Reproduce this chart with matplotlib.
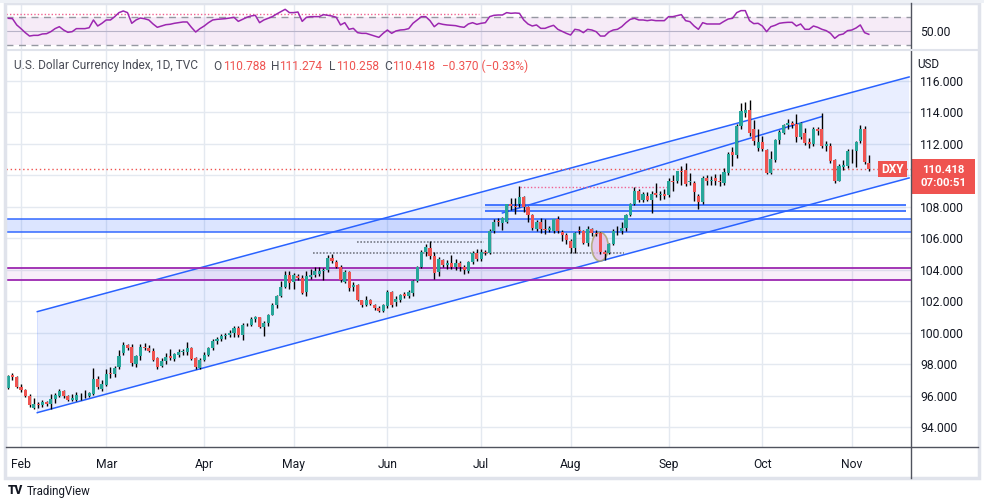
import numpy as np
import pandas as pd
import matplotlib.pyplot as plt
from matplotlib.patches import Rectangle, Ellipse

plt.rcParams['font.family'] = ['Roboto', 'DejaVu Sans']

# daily bars, 27 Jan 2022 .. 7 Nov 2022 (weekdays)
dates = pd.bdate_range("2022-01-27", "2022-11-07")

opens = [
    96.51, 97.30, 97.22,
    96.54, 96.34, 96.01, 95.25, 95.48, 95.40, 95.60, 95.50, 95.80, 96.00, 96.30, 96.00, 95.73, 95.76, 96.06, 96.02, 95.98, 96.10, 97.04, 96.45,
    96.70, 97.45, 97.38, 97.80, 98.70, 99.20, 99.08, 98.00, 98.50, 99.12, 99.05, 98.85, 98.38, 97.88, 98.20, 98.50, 98.35, 98.60, 98.76, 98.80, 99.05, 98.40, 97.78,
    98.30, 98.60, 99.00, 99.48, 99.62, 99.80, 99.84, 99.96, 100.30, 99.84, 100.50, 100.50, 100.90, 101.00, 100.38, 100.62, 101.15, 101.73, 102.33, 102.90, 103.65,
    103.20, 103.62, 103.48, 102.60, 103.55, 103.66, 103.70, 103.92, 103.95, 104.75, 104.50, 104.20, 103.25, 103.85, 102.90, 103.03, 102.05, 101.75, 102.05, 101.78, 101.58, 101.40,
    101.72, 102.57, 101.95, 102.10, 102.45, 102.35, 102.55, 103.30, 104.15, 105.15, 105.35, 104.90, 103.85, 104.62, 104.30, 104.45, 104.15, 104.40, 104.20, 103.90, 104.50, 105.08,
    104.70, 105.12, 105.05, 106.45, 107.08, 106.95, 107.00, 108.15, 108.05, 108.15, 108.60, 108.00, 107.45, 106.60, 107.05, 106.60, 106.55, 106.45, 107.20, 106.40, 106.20,
    105.85, 105.35, 106.48, 106.45, 105.70, 106.58, 106.35, 106.35, 105.15, 105.05, 105.65, 106.55, 106.45, 106.63, 107.50, 108.15, 109.00, 108.42, 108.70, 108.42, 108.85, 108.75, 108.80,
    108.75, 109.65, 109.60, 110.25, 110.30, 109.55, 109.50, 108.65, 108.30, 109.85, 109.60, 109.80, 109.65, 109.50, 110.15, 111.45, 111.25, 113.10, 113.95, 114.15, 112.95, 111.70,
    112.10, 111.60, 110.15, 110.95, 112.25, 112.70, 113.15, 113.30, 113.25, 112.40, 112.65, 112.10, 111.95, 112.95, 112.90, 111.85, 111.85, 110.95, 109.65, 110.50, 110.60,
    111.50, 111.50, 112.15, 112.95, 110.788,
]
highs = [
    97.34, 97.44, 97.26,
    96.72, 96.40, 96.12, 95.85, 95.62, 95.71, 95.66, 96.10, 96.18, 96.45, 96.34, 96.05, 96.10, 96.22, 96.15, 96.35, 96.24, 97.74, 97.28, 97.00,
    97.72, 97.80, 97.92, 98.93, 99.42, 99.30, 99.30, 98.60, 99.30, 99.32, 99.25, 99.00, 98.45, 98.40, 98.70, 98.97, 98.70, 98.95, 98.95, 99.40, 99.10, 98.45, 98.38,
    98.80, 99.10, 99.60, 99.76, 99.90, 100.00, 100.20, 100.40, 100.45, 100.60, 100.60, 101.00, 101.04, 101.03, 100.75, 101.20, 101.86, 102.40, 103.30, 103.93, 103.90,
    103.79, 103.70, 103.68, 103.94, 104.07, 104.20, 104.19, 104.10, 104.92, 105.01, 104.64, 104.27, 103.95, 103.90, 103.25, 103.08, 102.10, 102.35, 102.13, 101.85, 101.70, 101.85,
    102.70, 102.62, 102.30, 102.48, 102.58, 102.70, 103.35, 104.25, 105.25, 105.65, 105.79, 105.10, 104.80, 104.70, 104.60, 104.95, 104.70, 104.55, 104.30, 104.55, 105.20, 105.30,
    105.30, 105.25, 106.60, 107.20, 107.30, 107.35, 108.20, 108.55, 108.57, 109.29, 108.65, 108.05, 107.55, 107.15, 107.30, 107.20, 106.75, 107.20, 107.40, 106.55, 106.30,
    105.95, 106.40, 106.80, 106.55, 106.80, 106.65, 106.55, 106.40, 105.25, 105.72, 106.58, 106.75, 107.00, 107.55, 108.25, 109.27, 109.10, 108.95, 108.90, 108.98, 109.48, 109.00, 109.10,
    109.80, 110.00, 110.27, 110.60, 110.78, 110.15, 109.60, 108.80, 109.95, 110.00, 109.95, 110.05, 110.05, 110.45, 111.45, 111.80, 113.25, 114.58, 114.65, 114.78, 113.50, 112.90,
    112.50, 111.65, 111.50, 112.30, 112.85, 113.25, 113.55, 113.45, 113.88, 113.40, 113.00, 112.35, 113.05, 113.05, 113.92, 112.15, 112.05, 111.00, 110.70, 110.95, 111.65,
    111.65, 112.15, 113.15, 113.10, 111.274,
]
lows = [
    96.44, 96.97, 96.48,
    96.22, 95.93, 95.30, 95.14, 95.20, 95.30, 95.37, 95.14, 95.56, 95.90, 95.87, 95.70, 95.66, 95.70, 95.72, 95.88, 95.91, 96.08, 96.40, 96.30,
    96.60, 97.10, 97.20, 97.70, 98.60, 98.90, 97.88, 97.80, 98.30, 98.90, 98.75, 98.20, 97.72, 97.85, 98.00, 98.25, 98.20, 98.45, 98.60, 98.60, 98.25, 97.68, 97.70,
    98.20, 98.50, 98.90, 99.30, 99.50, 99.60, 99.70, 99.70, 99.75, 99.57, 100.40, 100.45, 100.70, 100.30, 99.82, 100.40, 101.10, 101.60, 102.25, 102.85, 102.75,
    102.80, 103.35, 102.45, 102.35, 103.40, 103.55, 103.62, 103.35, 103.85, 104.40, 104.10, 103.20, 103.13, 102.66, 102.65, 102.00, 101.64, 101.70, 101.75, 101.45, 101.30, 101.30,
    101.60, 101.65, 101.72, 101.95, 102.20, 102.20, 102.30, 103.20, 104.10, 104.90, 104.70, 103.40, 103.60, 104.20, 104.05, 104.05, 103.95, 103.90, 103.70, 103.80, 104.35, 104.55,
    104.55, 104.95, 104.98, 106.35, 106.75, 106.55, 106.95, 107.80, 107.55, 108.00, 107.65, 107.05, 106.55, 106.45, 106.30, 106.25, 106.40, 106.35, 106.30, 105.80, 105.65,
    105.05, 105.05, 106.25, 105.65, 105.50, 106.15, 106.15, 104.98, 104.64, 104.98, 105.55, 106.20, 106.25, 106.45, 107.40, 108.10, 108.28, 108.30, 108.35, 107.58, 108.60, 108.40, 108.50,
    108.60, 109.00, 109.50, 109.40, 109.30, 109.40, 108.35, 107.87, 108.20, 109.35, 109.40, 109.40, 109.30, 109.40, 110.00, 110.60, 111.10, 112.90, 113.70, 112.50, 111.90, 111.50,
    111.50, 110.05, 110.05, 110.85, 111.95, 112.60, 112.95, 113.00, 112.10, 112.30, 111.90, 111.75, 111.85, 112.55, 111.75, 111.55, 110.75, 109.53, 109.60, 110.35, 110.45,
    110.80, 110.50, 112.05, 110.70, 110.258,
]
closes = [
    97.25, 97.22, 96.54,
    96.34, 96.01, 95.39, 95.48, 95.43, 95.62, 95.51, 95.80, 96.07, 96.32, 95.99, 95.75, 95.85, 96.06, 96.03, 96.05, 96.18, 97.04, 96.55, 96.75,
    97.40, 97.38, 97.77, 98.50, 99.20, 99.05, 98.05, 98.50, 99.12, 99.02, 98.82, 98.30, 97.85, 98.23, 98.49, 98.38, 98.63, 98.80, 98.82, 99.05, 98.35, 97.80, 98.30,
    98.60, 99.00, 99.48, 99.62, 99.80, 99.84, 99.96, 100.30, 99.84, 100.52, 100.48, 100.90, 101.03, 100.38, 100.62, 101.11, 101.73, 102.33, 102.88, 103.65, 103.15,
    103.66, 103.45, 102.55, 103.62, 103.66, 103.89, 103.92, 103.95, 104.75, 104.56, 104.18, 103.33, 103.85, 102.84, 103.02, 102.09, 101.75, 102.10, 101.80, 101.55, 101.35, 101.75,
    102.57, 101.75, 102.16, 102.41, 102.32, 102.56, 103.28, 104.15, 105.10, 105.45, 104.85, 103.80, 104.65, 104.30, 104.45, 104.15, 104.40, 104.15, 103.95, 104.50, 105.08, 104.70,
    105.14, 105.08, 106.45, 107.05, 107.00, 107.25, 108.15, 108.05, 108.00, 108.60, 108.00, 107.50, 106.65, 107.05, 106.60, 106.55, 106.62, 107.20, 106.45, 106.20, 105.88,
    105.35, 106.30, 106.45, 105.70, 106.58, 106.35, 106.25, 105.15, 105.02, 105.65, 106.48, 106.50, 106.67, 107.50, 108.15, 109.00, 108.42, 108.78, 108.42, 108.80, 108.75, 108.80, 108.70,
    109.65, 109.55, 110.25, 110.20, 109.45, 109.65, 108.90, 108.30, 109.80, 109.60, 109.72, 109.65, 109.55, 110.20, 111.35, 111.30, 113.10, 114.10, 114.15, 112.65, 112.15, 112.10,
    111.65, 110.15, 111.05, 112.25, 112.75, 113.15, 113.30, 113.20, 112.40, 113.30, 112.05, 111.95, 112.95, 112.82, 111.85, 111.98, 110.90, 109.65, 110.55, 110.65, 111.55,
    111.56, 112.10, 112.95, 110.86, 110.418,
]
rsi = [
    68.6, 68.1, 59.0, 53.7, 47.9, 43.0, 44.0, 44.0, 46.0, 46.4,
    49.3, 53.7, 56.5, 51.7, 48.4, 49.3, 53.7, 53.7, 53.7, 55.0,
    66.2, 57.5, 61.4, 66.2, 66.2, 71.0, 76.8, 79.2, 76.8, 61.4,
    66.2, 69.0, 68.0, 66.2, 60.4, 55.6, 57.5, 59.4, 60.0, 61.4,
    62.3, 63.3, 63.3, 55.6, 48.8, 53.7, 57.5, 62.3, 66.2, 67.1,
    67.6, 68.1, 69.0, 70.0, 64.2, 67.1, 70.0, 72.0, 72.9, 62.3,
    66.2, 68.6, 71.0, 74.8, 78.2, 81.6, 76.8, 76.8, 77.7, 64.2,
    70.0, 71.0, 71.0, 71.0, 73.9, 72.9,
    71.9, 70.0, 59.0, 62.3, 52.7, 54.1, 47.9, 46.9, 46.9, 45.0,
    43.0, 41.1, 46.9, 51.7, 46.9, 50.3, 51.7, 52.2, 53.7, 61.4,
    66.2, 71.0, 71.0, 65.2, 56.5, 61.4, 59.9, 59.0, 58.5, 58.0,
    56.5, 55.6, 60.4, 62.3, 59.9, 61.4, 62.3, 71.0, 72.9, 73.4,
    73.4, 76.8, 75.8, 76.3, 75.8, 66.2, 60.4, 57.5, 59.0, 54.1,
    54.1, 56.5, 58.5, 52.7, 49.8, 46.9, 44.5, 52.7, 51.7, 47.9,
    52.7, 51.7, 49.3, 43.0, 43.0, 48.8, 51.7, 52.7, 56.5, 62.3,
    67.1, 68.6, 66.2, 66.2, 65.2,
    66.2, 65.2, 65.2, 65.2, 71.0, 71.0, 72.4, 73.9, 65.2, 63.8,
    57.5, 52.7, 62.3, 60.4, 60.4, 60.4, 60.4, 64.2, 67.6, 68.6,
    76.8, 79.7, 79.7, 65.2, 60.9, 61.4, 57.5, 49.3, 56.5, 58.5,
    61.4, 62.3, 62.8, 62.8, 57.5, 60.4, 52.7, 52.7, 57.5, 55.6,
    52.7, 50.8, 46.9, 39.7, 44.5, 46.0, 50.8, 51.7, 54.6, 59.0,
    47.9, 45.5,
]
price_ticks = [94, 96, 98, 100, 102, 104, 106, 108, 110, 112, 114, 116]
last_price = 110.418

# drawings on the chart (bar index, price)
channel_x = [6.83, 211.45]
channel_upper = [101.34, 116.23]
channel_lower = [94.93, 109.82]
inner_line_x = [116, 190.9]
inner_line_y = [107.6, 113.71]
blue_zone = [106.41, 107.22]
blue_lines = [107.75, 108.11]
purple_zone = [103.35, 104.13]

W, H = 984, 500
GREEN, RED = '#26a69a', '#ef5350'
BLUE, PURPLE = '#2962ff', '#9c27b0'
GRID = '#e4e9f0'
AXC = '#50535e'
TXT = '#131722'


def box(x0, y0, x1, y1):
    return [x0 / W, 1 - y1 / H, (x1 - x0) / W, (y1 - y0) / H]


def fx(x):
    return x / W


def fy(y):
    return 1 - y / H


fig = plt.figure(figsize=(W / 100, H / 100), dpi=100)
fig.patch.set_facecolor('white')
ax = fig.add_axes(box(6, 50, 911, 447))
rax = fig.add_axes(box(6, 3, 911, 50), sharex=ax)

idx = np.arange(len(dates))
o = np.array(opens)
h = np.array(highs)
l = np.array(lows)
c = np.array(closes)
up = c >= o
cols = np.where(up, GREEN, RED)

# zones and drawings
ax.fill([channel_x[0], channel_x[1], channel_x[1], channel_x[0]],
        [channel_lower[0], channel_lower[1], channel_upper[1], channel_upper[0]],
        color=BLUE, alpha=0.1, lw=0, zorder=1)
ax.plot(channel_x, channel_upper, color=BLUE, lw=1.1, zorder=2)
ax.plot(channel_x, channel_lower, color=BLUE, lw=1.1, zorder=2)
ax.plot([channel_x[0], channel_x[0]], [channel_lower[0], channel_upper[0]], color=BLUE, lw=0.5, alpha=0.2, zorder=2)
ax.plot(inner_line_x, inner_line_y, color=BLUE, lw=1.1, zorder=2)

ax.axhspan(blue_zone[0], blue_zone[1], color=BLUE, alpha=0.16, lw=0, zorder=1)
for yv in blue_zone:
    ax.axhline(yv, color=BLUE, lw=1.4, alpha=0.75, zorder=2)
ax.fill_between([111.9, 210.8], blue_lines[0], blue_lines[1], color=BLUE, alpha=0.07, lw=0, zorder=1)
ax.hlines(blue_lines, 111.9, 210.8, color=BLUE, lw=1.2, zorder=2)

ax.axhspan(purple_zone[0], purple_zone[1], color=PURPLE, alpha=0.07, lw=0, zorder=1)
for yv in purple_zone:
    ax.axhline(yv, color=PURPLE, lw=1.3, zorder=2)

ax.hlines(105.78, 81.9, 111.7, color='#787b86', lw=1.2, ls=(0, (1, 1)), zorder=2)
ax.hlines(105.04, 71.5, 144.5, color='#787b86', lw=1.2, ls=(0, (1, 1)), zorder=2)
ax.hlines(109.27, 120.1, 154.6, color='#f06292', lw=1.0, ls=(0, (1, 1.5)), zorder=2)
ax.axhline(last_price, color=RED, lw=1.0, ls=(0, (1, 2)), zorder=2)

ax.add_patch(Ellipse((138.9, 105.46), 3.9, 1.82, facecolor='#e1bee7', alpha=0.75,
                     edgecolor='#a79f5f', lw=1.2, zorder=2))

# candles
ax.vlines(idx, l, h, color='black', lw=1.0, zorder=3)
body = np.maximum(np.abs(c - o), 0.04)
ax.bar(idx, body, bottom=np.minimum(o, c), width=0.72, color=cols, lw=0, zorder=4)

# axes setup
month_idx = []
month_labels = []
for k, d in enumerate(dates):
    if k > 0 and d.month != dates[k - 1].month:
        month_idx.append(k)
        month_labels.append(d.strftime('%b'))

ax.set_xlim(-0.52, 211.9)
ax.set_ylim(92.75, 117.94)
ax.set_xticks(month_idx)
ax.set_xticklabels(month_labels)
ax.set_yticks(price_ticks)
# the 110 label sits under the last-price badge, as on the reference
ax.set_yticklabels(['' if p == 110 else f'{p:.3f}' for p in price_ticks])
ax.yaxis.tick_right()
ax.tick_params(axis='y', length=0, pad=6.5, labelsize=8.7, labelcolor=TXT)
ax.tick_params(axis='x', length=0, pad=8, labelsize=8.7, labelcolor=TXT)
ax.grid(True, color=GRID, lw=1.0, zorder=0)
ax.set_axisbelow(True)
for s in ax.spines.values():
    s.set_visible(False)

# RSI pane
rax.set_ylim(22.85, 90.7)
rax.axhspan(30, 70, color=PURPLE, alpha=0.09, lw=0, zorder=1)
rax.axhline(70, color='#9598a1', lw=1.0, ls=(0, (5, 4)), zorder=2)
rax.axhline(30, color='#9598a1', lw=1.0, ls=(0, (5, 4)), zorder=2)
rax.axhline(50, color='#b8b3c8', lw=0.8, zorder=2)
rax.hlines(74.4, -0.5, 110.4, color='#f06292', lw=1.0, ls=(0, (1, 1.5)), zorder=2)
rax.plot(idx, rsi, color=PURPLE, lw=1.1, zorder=3)
rax.set_yticks([50])
rax.set_yticklabels(['50.00'])
rax.yaxis.tick_right()
rax.tick_params(axis='y', length=0, pad=6.5, labelsize=8.7, labelcolor=TXT)
rax.tick_params(axis='x', length=0, labelbottom=False)
rax.grid(True, axis='x', color=GRID, lw=1.0, zorder=0)
rax.set_axisbelow(True)
for s in rax.spines.values():
    s.set_visible(False)

# frame lines
fig.add_artist(plt.Line2D([fx(911), fx(911)], [fy(3), fy(478)], color=AXC, lw=1.0))
fig.add_artist(plt.Line2D([fx(6), fx(978)], [fy(447), fy(447)], color=AXC, lw=1.0))
fig.add_artist(plt.Line2D([fx(6), fx(978)], [fy(50), fy(50)], color='#e0e3eb', lw=1.5))
fig.add_artist(Rectangle((fx(5), fy(478)), fx(974), 475 / H, transform=fig.transFigure,
                         fill=False, edgecolor='#e0e3eb', lw=2.5))
fig.add_artist(Rectangle((0, fy(3)), 1, 3 / H, transform=fig.transFigure,
                         facecolor='#eef1f6', edgecolor='none'))

# title line
fig.text(fx(14), fy(66), 'U.S. Dollar Currency Index, 1D, TVC', fontsize=8.6, color='#4a4d57', va='center')
pieces = [(213.5, 'O', '#4a4d57'), (223, '110.788', RED), (271.5, 'H', '#4a4d57'), (279.5, '111.274', RED),
          (329, 'L', '#4a4d57'), (336.5, '110.258', RED), (384.5, 'C', '#4a4d57'), (392.5, '110.418', RED),
          (441.5, '\u22120.370 (\u22120.33%)', RED)]
for xp, s, col in pieces:
    fig.text(fx(xp), fy(66), s, fontsize=8.6, color=col, va='center')
fig.text(fx(917), fy(64), 'USD', fontsize=8.4, color=TXT, va='center')

# price labels
fig.add_artist(Rectangle((fx(878), fy(177)), 29 / W, 16 / H, transform=fig.transFigure,
                         facecolor=RED, edgecolor='none'))
fig.text(fx(892.5), fy(169), 'DXY', fontsize=8.6, color='white', fontweight='bold', ha='center', va='center')
fig.add_artist(Rectangle((fx(912), fy(194)), 63 / W, 35 / H, transform=fig.transFigure,
                         facecolor=RED, edgecolor='none'))
fig.text(fx(943.5), fy(176.5), '110.418\n07:00:51', fontsize=8.2, color='white', fontweight='bold',
         ha='center', va='center', linespacing=1.35, multialignment='center')

# watermark
fig.text(fx(8), fy(491), 'TV', fontsize=8.5, color=TXT, fontweight='heavy', va='center')
fig.text(fx(27), fy(491), 'TradingView', fontsize=8.3, color=TXT, va='center')

fig.savefig('out.png', dpi=100, facecolor='white')
